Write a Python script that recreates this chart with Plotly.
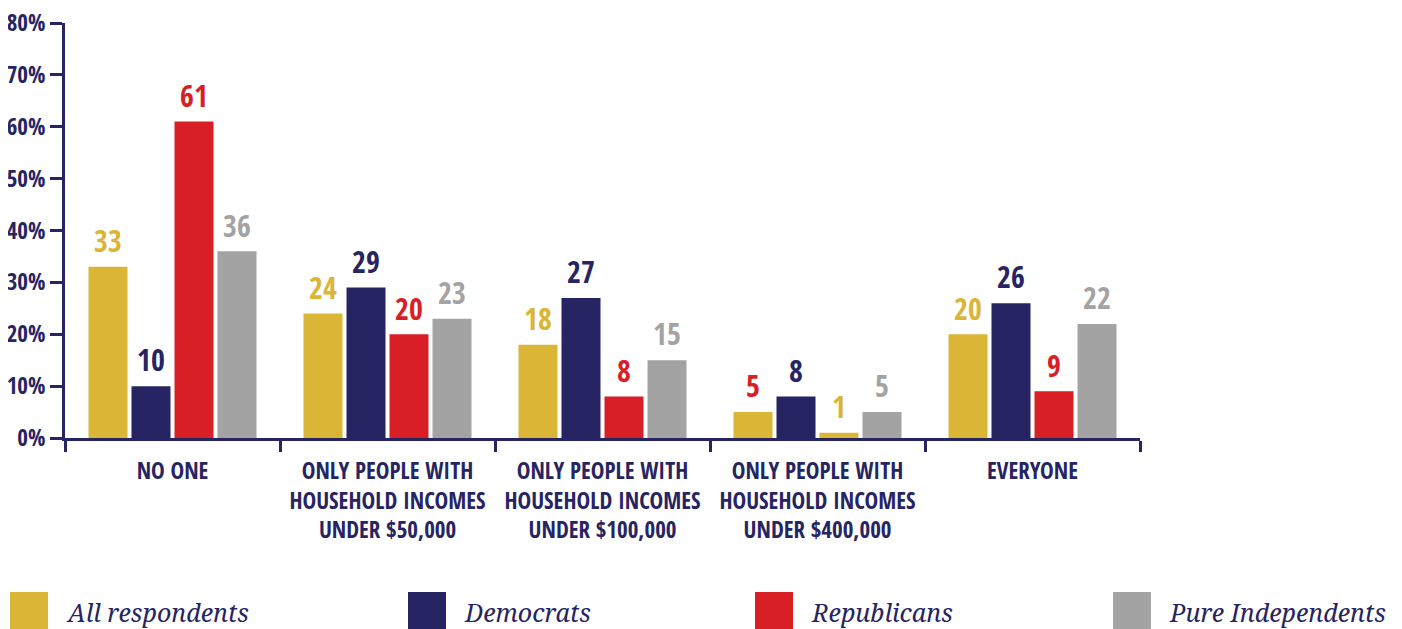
import plotly.graph_objects as go

categories = [
    "NO ONE",
    "ONLY PEOPLE WITH<br>HOUSEHOLD INCOMES<br>UNDER $50,000",
    "ONLY PEOPLE WITH<br>HOUSEHOLD INCOMES<br>UNDER $100,000",
    "ONLY PEOPLE WITH<br>HOUSEHOLD INCOMES<br>UNDER $400,000",
    "EVERYONE",
]
series_names = ["All respondents", "Democrats", "Republicans", "Pure Independents"]
all_respondents = [33, 24, 18, 5, 20]
democrats = [10, 29, 27, 8, 26]
republicans = [61, 20, 8, 1, 9]
pure_independents = [36, 23, 15, 5, 22]
y_ticks = [0, 10, 20, 30, 40, 50, 60, 70, 80]
y_tick_labels = ["0%", "10%", "20%", "30%", "40%", "50%", "60%", "70%", "80%"]

YEL = "#DAB536"
NAV = "#272463"
RED = "#D91F26"
GRY = "#A3A3A3"

# per-bar colours as drawn in the source
bar_colors = [
    [YEL, YEL, YEL, YEL, YEL],
    [NAV] * 5,
    [RED, RED, RED, YEL, RED],
    [GRY] * 5,
]
label_colors = [
    [YEL, YEL, YEL, RED, YEL],
    [NAV] * 5,
    [RED, RED, RED, YEL, RED],
    [GRY] * 5,
]
legend_colors = [YEL, NAV, RED, GRY]

COND = "Open Sans Condensed, Roboto Condensed, sans-serif"
SERIF = "Noto Serif, DejaVu Serif, serif"

values = [all_respondents, democrats, republicans, pure_independents]

fig = go.Figure()
for i, (name, vals, bc) in enumerate(zip(series_names, values, bar_colors)):
    fig.add_trace(go.Bar(
        x=categories, y=vals, name=name, offsetgroup=str(i),
        marker=dict(color=bc, line=dict(width=0)),
        showlegend=False, hoverinfo="x+y",
    ))
for i, (name, vals, lc) in enumerate(zip(series_names, values, label_colors)):
    fig.add_trace(go.Scatter(
        x=categories, y=vals, name=name, offsetgroup=str(i),
        mode="markers+text", text=[str(v) for v in vals], textposition="top center",
        marker=dict(size=10, color="rgba(0,0,0,0)"),
        textfont=dict(family=COND, size=30, color=lc, weight="bold"),
        cliponaxis=False, showlegend=False, hoverinfo="skip",
    ))

W, H = 1402, 629
OFF = 8  # page body margin
L, R, T, B = 65 - OFF, 1140 - OFF, 23 - OFF, 438 - OFF


def px(x):
    return (x - OFF - L) / (R - L)


def py(y):
    return (B - (y - OFF)) / (B - T)


shapes = []
annotations = []
sq_x = [10, 408, 755, 1113]
for name, col, x0 in zip(series_names, legend_colors, sq_x):
    shapes.append(dict(type="rect", xref="paper", yref="paper",
                       x0=px(x0), x1=px(x0 + 38), y0=py(592), y1=py(660),
                       fillcolor=col, line=dict(width=0), layer="above"))
    annotations.append(dict(xref="paper", yref="paper", x=px(x0 + 54), y=py(612),
                            xanchor="left", yanchor="middle", showarrow=False,
                            text=name,
                            font=dict(family=SERIF, size=25, color=NAV, style="italic")))

fig.update_layout(
    width=W, height=H,
    margin=dict(l=L, r=W - R, t=T, b=H - B, pad=0),
    plot_bgcolor="white", paper_bgcolor="white",
    barmode="group", bargap=0.2, bargroupgap=0.093,
    scattermode="group", scattergap=0.2,
    shapes=shapes, annotations=annotations,
    xaxis=dict(
        type="category", showline=True, linecolor=NAV, linewidth=3,
        ticks="outside", tickson="boundaries", ticklen=11, tickwidth=2.5, tickcolor=NAV,
        tickfont=dict(family=COND, size=23, color=NAV, weight="bold"),
        ticklabelstandoff=10, ticklabeloverflow="allow",
        tickangle=0, automargin=False,
        showgrid=False, zeroline=False,
    ),
    yaxis=dict(
        range=[0, 80], tickmode="array", tickvals=y_ticks, ticktext=y_tick_labels,
        showline=True, linecolor=NAV, linewidth=3,
        ticks="outside", ticklen=12, tickwidth=2.5, tickcolor=NAV,
        tickfont=dict(family=COND, size=23, color=NAV, weight="bold"),
        ticklabeloverflow="allow",
        automargin=False, showgrid=False, zeroline=False,
    ),
)

fig.write_html("out.html")
